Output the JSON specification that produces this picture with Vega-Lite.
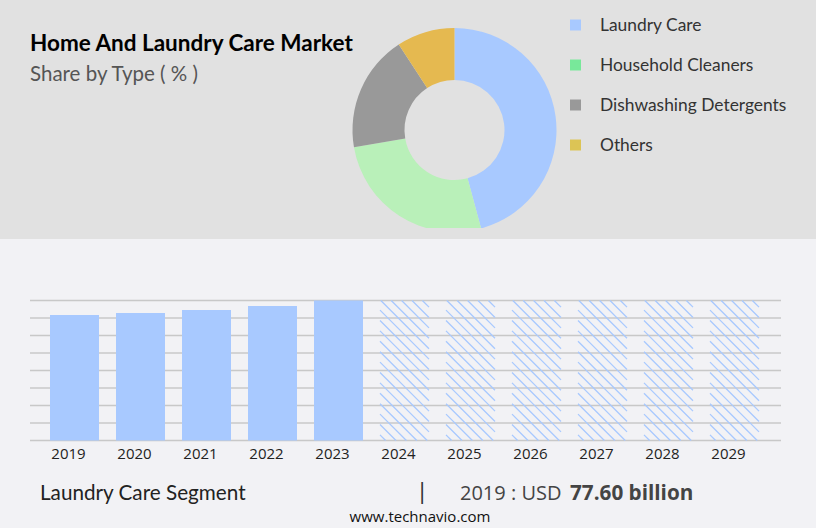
{
  "$schema": "https://vega.github.io/schema/vega-lite/v6.json",
  "padding": 0,
  "background": "#e1e1e1",
  "spacing": 11,
  "config": {"view": {"stroke": null}, "text": {"font": "Lato"}},
  "vconcat": [
    {
      "width": 816,
      "height": 228,
      "data": {"values": [
        {"type": "Laundry Care", "share": 45.8, "rank": 1},
        {"type": "Household Cleaners", "share": 26.5, "rank": 2},
        {"type": "Dishwashing Detergents", "share": 18.5, "rank": 3},
        {"type": "Others", "share": 9.2, "rank": 4}
      ]},
      "layer": [
        {
          "mark": {"type": "arc", "outerRadius": 102, "innerRadius": 50, "clip": true},
          "encoding": {
            "x": {"value": 454.5},
            "y": {"value": 130},
            "theta": {"field": "share", "type": "quantitative", "stack": true},
            "order": {"field": "rank"},
            "color": {
              "field": "type",
              "type": "nominal",
              "legend": null,
              "scale": {
                "domain": ["Laundry Care", "Household Cleaners", "Dishwashing Detergents", "Others"],
                "range": ["#a8c9ff", "#b9f0b9", "#999999", "#e5b950"]
              }
            }
          }
        },
        {
          "mark": {"type": "point", "shape": "square", "filled": true, "opacity": 1, "size": 121},
          "encoding": {
            "x": {"value": 575.5},
            "y": {
              "field": "type",
              "type": "nominal",
              "axis": null,
              "sort": null,
              "scale": {"type": "point", "padding": 0, "domain": ["Laundry Care", "Household Cleaners", "Dishwashing Detergents", "Others"], "range": [25, 145]}
            },
            "color": {
              "field": "type",
              "type": "nominal",
              "legend": null,
              "scale": {
                "domain": ["Laundry Care", "Household Cleaners", "Dishwashing Detergents", "Others"],
                "range": ["#a8c9ff", "#78e89a", "#999999", "#dcc455"]
              }
            }
          }
        },
        {
          "mark": {"type": "text", "align": "left", "baseline": "middle", "fontSize": 17.4, "dy": 0.5, "color": "#333333"},
          "encoding": {
            "x": {"value": 600},
            "y": {"field": "type", "type": "nominal", "axis": null, "sort": null},
            "text": {"field": "type"}
          }
        },
        {
          "data": {"values": [{"label": "Home And Laundry Care Market"}]},
          "mark": {"type": "text", "align": "left", "baseline": "middle", "fontSize": 22.5, "fontWeight": "bold", "color": "#000000"},
          "encoding": {"x": {"value": 30}, "y": {"value": 44}, "text": {"field": "label"}}
        },
        {
          "data": {"values": [{"label": "Share by Type ( % )"}]},
          "mark": {"type": "text", "align": "left", "baseline": "middle", "fontSize": 20.5, "color": "#555555"},
          "encoding": {"x": {"value": 30}, "y": {"value": 75}, "text": {"field": "label"}}
        }
      ],
      "resolve": {"scale": {"color": "independent"}}
    },
    {
      "width": 816,
      "height": 289,
      "view": {"fill": "#f2f2f5", "stroke": null},
      "layer": [
        {
          "data": {"values": [
            {"tick": 0}, {"tick": 10.8}, {"tick": 21.6}, {"tick": 32.5}, {"tick": 43.3},
            {"tick": 54.1}, {"tick": 65}, {"tick": 75.8}, {"tick": 86.6}
          ]},
          "mark": {"type": "rule", "color": "#c8c8c8", "strokeWidth": 1.5},
          "encoding": {
            "x": {"value": 30},
            "x2": {"value": 781},
            "y": {
              "field": "tick",
              "type": "quantitative",
              "title": null,
              "axis": null,
              "scale": {"domain": [0, 86.6], "range": [201.5, 61.5], "nice": false, "zero": true}
            }
          }
        },
        {
          "data": {"values": [
            {"year": 2019, "value": 77.6},
            {"year": 2020, "value": 78.9},
            {"year": 2021, "value": 80.7},
            {"year": 2022, "value": 83.2},
            {"year": 2023, "value": 86.6}
          ]},
          "mark": {"type": "bar", "color": "#a8c9ff"},
          "encoding": {
            "x": {
              "field": "year",
              "type": "ordinal",
              "title": null,
              "scale": {"domain": [2019, 2020, 2021, 2022, 2023, 2024, 2025, 2026, 2027, 2028, 2029], "range": [41.5, 767.5], "paddingInner": 0.2576, "paddingOuter": 0.1288},
              "axis": {"orient": "bottom", "offset": -87.5, "domain": false, "ticks": false, "labelAngle": 0, "labelOffset": -6, "labelPadding": 6, "labelFont": "Open Sans", "labelFontSize": 15, "labelColor": "#222222"}
            },
            "y": {"field": "value", "type": "quantitative"}
          }
        },
        {
          "data": {"values": [
            {"year": 2024, "value": 86.6},
            {"year": 2025, "value": 86.6},
            {"year": 2026, "value": 86.6},
            {"year": 2027, "value": 86.6},
            {"year": 2028, "value": 86.6},
            {"year": 2029, "value": 86.6}
          ]},
          "mark": {
            "type": "point",
            "filled": false,
            "opacity": 1,
            "size": 4,
            "color": "#a8c9ff",
            "strokeWidth": 1.3,
            "shape": "M17.9,0L24.5,6.6M7.5,0L24.5,17M-2.9,0L24.5,27.4M-13.3,0L24.5,37.8M-23.7,0L24.5,48.2M-24.5,9.6L24.5,58.6M-24.5,20L24.5,69M-24.5,30.4L24.5,79.4M-24.5,40.8L24.5,89.8M-24.5,51.2L24.5,100.2M-24.5,61.6L24.5,110.6M-24.5,72L24.5,121M-24.5,82.4L24.5,131.4M-24.5,92.8L22.7,140M-24.5,103.2L12.3,140M-24.5,113.6L1.9,140M-24.5,124L-8.5,140M-24.5,134.4L-18.9,140"
          },
          "encoding": {
            "x": {"field": "year", "type": "ordinal"},
            "y": {"field": "value", "type": "quantitative"}
          }
        },
        {
          "data": {"values": [{"label": "Laundry Care Segment"}]},
          "mark": {"type": "text", "align": "left", "baseline": "middle", "fontSize": 20.7, "color": "#222222"},
          "encoding": {"x": {"value": 40}, "y": {"value": 254.5}, "text": {"field": "label"}}
        },
        {
          "data": {"values": [{"label": "|"}]},
          "mark": {"type": "text", "align": "center", "baseline": "middle", "fontSize": 23, "color": "#333333"},
          "encoding": {"x": {"value": 422}, "y": {"value": 254}, "text": {"field": "label"}}
        },
        {
          "data": {"values": [{"label": "2019 : USD"}]},
          "mark": {"type": "text", "align": "left", "baseline": "middle", "fontSize": 20, "font": "Open Sans", "color": "#444444"},
          "encoding": {"x": {"value": 460}, "y": {"value": 254.5}, "text": {"field": "label"}}
        },
        {
          "data": {"values": [{"label": "77.60 billion"}]},
          "mark": {"type": "text", "align": "left", "baseline": "middle", "fontSize": 20.7, "font": "Open Sans", "fontWeight": "bold", "color": "#444444"},
          "encoding": {"x": {"value": 570}, "y": {"value": 254.5}, "text": {"field": "label"}}
        },
        {
          "data": {"values": [{"label": "www.technavio.com"}]},
          "mark": {"type": "text", "align": "center", "baseline": "middle", "fontSize": 15, "font": "Open Sans", "color": "#111111"},
          "encoding": {"x": {"value": 420}, "y": {"value": 277.5}, "text": {"field": "label"}}
        }
      ]
    }
  ]
}
